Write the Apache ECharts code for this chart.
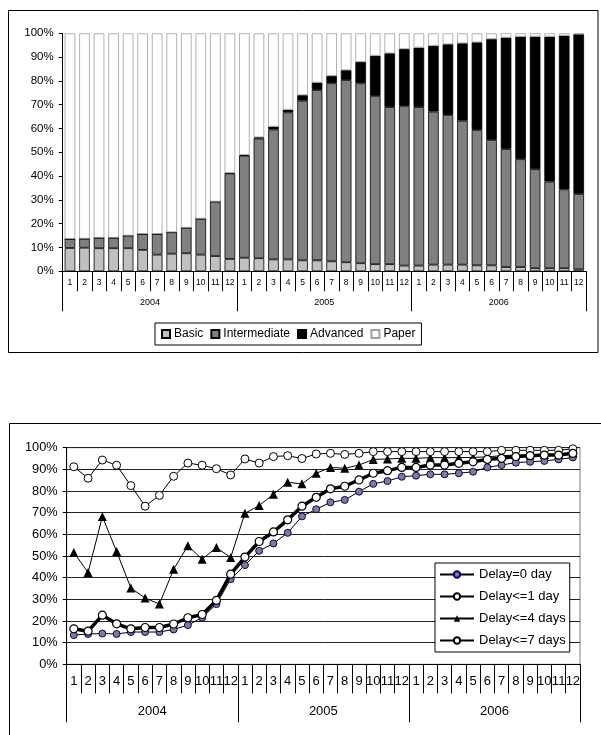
<!DOCTYPE html>
<html>
<head>
<meta charset="utf-8">
<script src="https://cdn.jsdelivr.net/npm/echarts@6/dist/echarts.min.js"></script>
<style>
html,body{margin:0;padding:0;background:#fff;}
#c{width:601px;height:735px;}
</style>
</head>
<body>
<div id="c"></div>
<script>
// ---- data ----
const years = ['2004', '2005', '2006'];
const months = ['1','2','3','4','5','6','7','8','9','10','11','12'];
const yTicks = [0, 10, 20, 30, 40, 50, 60, 70, 80, 90, 100];

// Top chart: share (%) of each channel
const basic = [9.8,9.9,9.7,9.7,9.7,9.0,7.0,7.4,7.6,7.0,6.4,5.2, 5.7,5.5,5.0,5.0,4.6,4.6,4.2,3.8,3.4,3.0,3.0,2.4, 2.4,2.8,2.8,2.8,2.5,2.5,1.8,1.8,1.3,1.3,1.3,0.8];
const intermediate = [3.8,3.8,4.4,4.4,5.3,6.7,8.7,9.0,10.7,15.1,22.9,35.9, 42.9,50.3,54.6,61.8,67.1,71.6,74.8,76.6,75.6,70.7,66.0,67.1, 66.6,64.3,62.9,60.5,56.9,52.7,49.6,45.3,41.6,36.4,33.1,31.7];
const advanced = [0,0,0,0,0,0,0,0,0,0,0,0.2, 0.3,0.5,1.2,1.1,2.3,3.1,3.1,4.1,9.0,16.9,22.6,23.9, 25.0,27.7,29.7,32.5,36.8,42.4,46.8,51.5,55.7,60.9,64.6,67.1];
const paper = [86.4,86.3,85.9,85.9,85.0,84.3,84.3,83.6,81.7,77.9,70.7,58.7, 51.1,43.7,39.2,32.1,26.0,20.7,17.9,15.5,12.0,9.4,8.4,6.6, 6.0,5.2,4.6,4.2,3.8,2.4,1.8,1.4,1.4,1.4,1.0,0.4];

// Bottom chart: cumulative share (%) by delay
const delay0 = [13.5,14.0,14.2,14.0,14.9,14.9,14.9,16.1,18.1,21.5,27.8,39.3, 45.8,52.4,55.8,60.7,68.3,71.6,74.8,75.9,79.7,83.3,84.6,86.6, 87.1,87.7,87.7,88.2,88.9,90.9,92.0,93.1,93.5,93.9,94.6,95.5];
const delay1 = [16.4,15.3,22.7,18.7,16.4,17.0,17.0,18.6,21.5,23.0,29.5,41.6, 49.5,56.7,61.1,66.7,73.0,77.1,81.0,82.2,85.1,88.2,89.4,90.9, 90.9,92.0,92.0,92.8,93.5,94.6,95.1,95.9,96.3,96.6,96.6,97.4];
const delay4 = [51.6,42.4,68.2,52.1,35.2,30.6,27.8,43.9,54.7,48.5,53.9,49.3, 69.7,73.3,78.5,84.0,83.3,88.2,90.9,90.5,92.0,94.6,94.8,95.1, 95.1,95.4,95.4,95.4,95.5,95.8,96.3,96.6,96.6,96.9,96.9,97.7];
const delay7 = [91.2,85.9,94.3,91.9,82.5,73.0,78.0,86.8,92.9,91.9,90.3,87.4, 94.8,92.9,95.9,96.3,95.0,97.1,97.4,96.9,97.4,98.2,98.2,98.2, 98.2,98.2,98.2,98.2,98.2,98.2,98.8,98.8,98.8,98.8,98.8,99.5];

// ---- build ----
const cats = [];
years.forEach(y => months.forEach(m => cats.push(y + '-' + m)));
const FONT = '"Liberation Sans", Arial, sans-serif';
const yMin = yTicks[0], yMax = yTicks[yTicks.length - 1], yStep = yTicks[1] - yTicks[0];

const chart = echarts.init(document.getElementById('c'), null, {renderer: 'canvas'});

function monthAxis(grid, fs, tickLen, margin) {
  return {
    type: 'category', gridIndex: grid, data: cats, position: 'bottom',
    axisLine: {show: true, lineStyle: {color: '#000', width: 1}},
    axisTick: {show: true, interval: 0, length: tickLen, lineStyle: {color: '#000', width: 1}},
    axisLabel: {interval: 0, fontSize: fs, color: '#000', fontFamily: FONT, margin: margin,
      formatter: v => v.split('-')[1]},
    splitLine: {show: false}
  };
}
function yearAxis(grid, fs, tickLen, margin) {
  return {
    type: 'category', gridIndex: grid, data: years, position: 'bottom',
    axisLine: {show: false},
    axisTick: {show: true, interval: 0, length: tickLen, lineStyle: {color: '#000', width: 1}},
    axisLabel: {interval: 0, fontSize: fs, color: '#000', fontFamily: FONT, margin: margin},
    splitLine: {show: false}
  };
}

const barBase = {type: 'bar', stack: 'share', xAxisIndex: 0, yAxisIndex: 0, barCategoryGap: '27%'};

const option = {
  animation: false,
  backgroundColor: '#fff',
  textStyle: {fontFamily: FONT},
  graphic: [
    {type: 'rect', shape: {x: 8.5, y: 10.5, width: 589.5, height: 342}, style: {fill: 'none', stroke: '#000', lineWidth: 1}, silent: true},
    {type: 'rect', shape: {x: 9.5, y: 423.5, width: 600, height: 330}, style: {fill: 'none', stroke: '#000', lineWidth: 1}, silent: true}
  ],
  grid: [
    {left: 62.7, top: 33.3, width: 523.3, height: 238, containLabel: false},
    {left: 66.7, top: 447.7, width: 513.3, height: 216.6, containLabel: false, show: true, borderColor: '#808080', borderWidth: 1}
  ],
  legend: [
    {
      data: ['Basic', 'Intermediate', 'Advanced', 'Paper'],
      left: 155, top: 323, orient: 'horizontal', icon: 'rect',
      itemWidth: 8, itemHeight: 8, itemGap: 7,
      borderColor: '#000', borderWidth: 1, padding: [5, 6, 5, 6],
      textStyle: {fontSize: 12, color: '#000', fontFamily: FONT, padding: [0, 0, 0, -1]}
    },
    {
      data: ['Delay=0 day', 'Delay<=1 day', 'Delay<=4 days', 'Delay<=7 days'],
      left: 435, top: 563, orient: 'vertical',
      itemWidth: 34, itemHeight: 8, itemGap: 9,
      borderColor: '#000', borderWidth: 1, backgroundColor: '#fff', padding: [5, 4, 5, 4],
      textStyle: {fontSize: 13, color: '#000', fontFamily: FONT}
    }
  ],
  xAxis: [
    monthAxis(0, 8.5, 20, 7),
    yearAxis(0, 9, 40, 27),
    monthAxis(1, 13, 29, 11),
    yearAxis(1, 13, 58, 41)
  ],
  yAxis: [
    {
      type: 'value', gridIndex: 0, min: yMin, max: yMax, interval: yStep,
      axisLine: {show: true, lineStyle: {color: '#000'}},
      axisTick: {show: true, length: 4, lineStyle: {color: '#000'}},
      axisLabel: {formatter: '{value}%', fontSize: 11.5, color: '#000', fontFamily: FONT, margin: 9},
      splitLine: {show: false}
    },
    {
      type: 'value', gridIndex: 1, min: yMin, max: yMax, interval: yStep,
      axisLine: {show: true, lineStyle: {color: '#000'}},
      axisTick: {show: true, length: 4, lineStyle: {color: '#000'}},
      axisLabel: {formatter: '{value}%', fontSize: 12.8, color: '#000', fontFamily: FONT, margin: 9},
      splitLine: {show: true, lineStyle: {color: '#222', width: 1}}
    }
  ],
  series: [
    Object.assign({}, barBase, {name: 'Basic', data: basic,
      itemStyle: {color: '#c0c0c0', borderColor: '#000', borderWidth: 0.8}}),
    Object.assign({}, barBase, {name: 'Intermediate', data: intermediate,
      itemStyle: {color: '#808080', borderColor: '#000', borderWidth: 0.8}}),
    Object.assign({}, barBase, {name: 'Advanced', data: advanced,
      itemStyle: {color: '#000', borderColor: '#000', borderWidth: 0.8}}),
    Object.assign({}, barBase, {name: 'Paper', data: paper,
      itemStyle: {color: '#fff', borderColor: '#a0a0a0', borderWidth: 0.8}}),

    {name: 'Delay=0 day', type: 'line', xAxisIndex: 2, yAxisIndex: 1, data: delay0,
      symbol: 'circle', symbolSize: 7, z: 3,
      itemStyle: {color: '#808080', borderColor: '#000080', borderWidth: 1},
      lineStyle: {color: '#000', width: 1}},
    {name: 'Delay<=1 day', type: 'line', xAxisIndex: 2, yAxisIndex: 1, data: delay1,
      symbol: 'circle', symbolSize: 8, z: 4,
      itemStyle: {color: '#fff', borderColor: '#000', borderWidth: 1.2},
      lineStyle: {color: '#000', width: 3.5}},
    {name: 'Delay<=4 days', type: 'line', xAxisIndex: 2, yAxisIndex: 1, data: delay4,
      symbol: 'triangle', symbolSize: 9, z: 3,
      itemStyle: {color: '#000', borderColor: '#000', borderWidth: 0},
      lineStyle: {color: '#000', width: 1}},
    {name: 'Delay<=7 days', type: 'line', xAxisIndex: 2, yAxisIndex: 1, data: delay7,
      symbol: 'circle', symbolSize: 8, z: 3,
      itemStyle: {color: '#fff', borderColor: '#000', borderWidth: 1},
      lineStyle: {color: '#000', width: 1}}
  ]
};
chart.setOption(option);
</script>
</body>
</html>
